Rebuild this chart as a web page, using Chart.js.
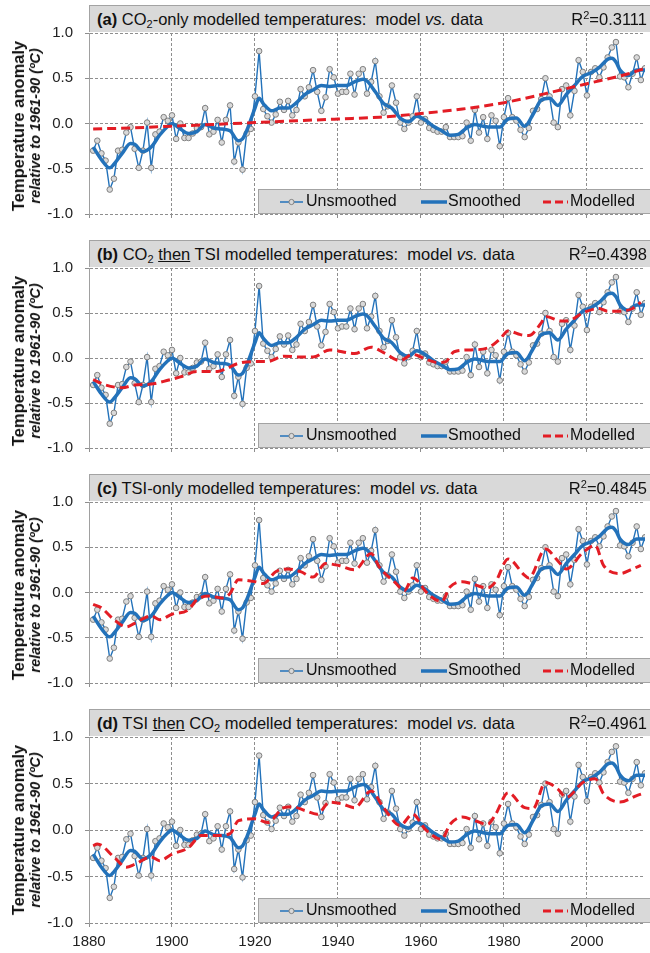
<!DOCTYPE html>
<html>
<head>
<meta charset="utf-8">
<script src="https://cdn.jsdelivr.net/npm/chart.js@4.4.1/dist/chart.umd.min.js"></script>
<style>
body{margin:0;background:#fff;font-family:"Liberation Sans",Arial,sans-serif;}
#wrap{position:relative;width:650px;height:953px;overflow:hidden;background:#fff;}
canvas{position:absolute;left:0;}
.tbox{position:absolute;left:89px;width:570px;height:27px;background:#d9d9d9;border:1px solid #a3a3a3;border-bottom:none;
  box-sizing:border-box;font-size:16.5px;line-height:27px;color:#111;padding-left:7px;white-space:nowrap;}
.tbox b{font-weight:bold;}
.tbox sub{font-size:11px;vertical-align:-3px;line-height:0;}
.tbox sup{font-size:11px;vertical-align:6px;line-height:0;}
.tbox .r2{position:absolute;right:11px;top:0;}
.ytitle{position:absolute;left:27px;transform:translate(-50%,-50%) rotate(-90deg);text-align:center;white-space:nowrap;color:#111;}
.ytitle .l1{font-weight:bold;font-size:16.5px;line-height:17px;}
.ytitle .l2{font-weight:bold;font-style:italic;font-size:14.5px;line-height:17px;}
</style>
</head>
<body>
<div id="wrap"></div>
<script>
// annual unsmoothed anomalies, 1881-2014
const years = [
  1881,1882,1883,1884,1885,1886,1887,1888,1889,1890,
  1891,1892,1893,1894,1895,1896,1897,1898,1899,1900,
  1901,1902,1903,1904,1905,1906,1907,1908,1909,1910,
  1911,1912,1913,1914,1915,1916,1917,1918,1919,1920,
  1921,1922,1923,1924,1925,1926,1927,1928,1929,1930,
  1931,1932,1933,1934,1935,1936,1937,1938,1939,1940,
  1941,1942,1943,1944,1945,1946,1947,1948,1949,1950,
  1951,1952,1953,1954,1955,1956,1957,1958,1959,1960,
  1961,1962,1963,1964,1965,1966,1967,1968,1969,1970,
  1971,1972,1973,1974,1975,1976,1977,1978,1979,1980,
  1981,1982,1983,1984,1985,1986,1987,1988,1989,1990,
  1991,1992,1993,1994,1995,1996,1997,1998,1999,2000,
  2001,2002,2003,2004,2005,2006,2007,2008,2009,2010,
  2011,2012,2013,2014
];
const unsmoothed = [
  -0.30,-0.19,-0.33,-0.41,-0.73,-0.61,-0.30,-0.29,-0.10,-0.04,
  -0.28,-0.49,-0.30, 0.01,-0.49,-0.12,-0.09, 0.07, 0.03, 0.09,
  -0.17, 0.00,-0.16,-0.16,-0.11,-0.05,-0.04, 0.17,-0.12,-0.09,
   0.04,-0.21, 0.04, 0.20,-0.42,-0.21,-0.51,-0.11,-0.06, 0.30,
   0.80, 0.16, 0.08, 0.01, 0.10, 0.24, 0.15, 0.25, 0.09, 0.15,
   0.38, 0.30, 0.40, 0.59, 0.35, 0.14, 0.29, 0.60, 0.51, 0.33,
   0.35, 0.35, 0.55, 0.32, 0.55, 0.60, 0.33, 0.46, 0.69, 0.30,
   0.12, 0.19, 0.42, 0.23, 0.01,-0.06, 0.01, 0.08, 0.30, 0.01,
   0.05,-0.05,-0.07,-0.09,-0.09,-0.04,-0.15,-0.15,-0.15,-0.14,
   0.01,-0.19, 0.15,-0.10, 0.07,-0.17, 0.09, 0.03,-0.25, 0.07,
   0.28, 0.07, 0.03,-0.07,-0.15,-0.05, 0.14, 0.16, 0.27, 0.50,
   0.30, 0.01,-0.04, 0.38, 0.42, 0.09, 0.36, 0.70, 0.57, 0.31,
   0.57, 0.61, 0.51, 0.62, 0.73, 0.84, 0.90, 0.52, 0.51, 0.40,
   0.55, 0.73, 0.48, 0.61
];

// smoothed curve, read at irregular years
const smoothYears = [1881,1883,1885,1886,1888,1890,1891,1893,1895,1897,1899,1900,1902,1904,1906,1908,1910,1912,1914,1916,1917,1918,1920,1921,1922,1924,1926,1928,1930,1932,1934,1936,1938,1940,1942,1944,1946,1947,1949,1951,1953,1955,1957,1959,1961,1963,1965,1967,1969,1971,1973,1975,1977,1979,1981,1983,1985,1987,1989,1991,1993,1995,1997,1999,2001,2003,2005,2006,2007,2008,2010,2012,2014];
const smoothed = [-0.26,-0.40,-0.49,-0.45,-0.33,-0.22,-0.23,-0.31,-0.26,-0.13,-0.03,0.00,-0.06,-0.11,-0.09,-0.01,-0.05,-0.06,-0.08,-0.19,-0.17,-0.08,0.17,0.28,0.22,0.14,0.17,0.17,0.23,0.32,0.37,0.42,0.41,0.42,0.42,0.46,0.49,0.47,0.35,0.22,0.17,0.06,0.02,0.08,0.04,-0.03,-0.08,-0.13,-0.12,-0.05,-0.01,-0.03,-0.04,-0.04,0.05,0.06,-0.03,0.10,0.26,0.28,0.20,0.32,0.42,0.52,0.56,0.62,0.71,0.72,0.68,0.59,0.53,0.59,0.59];

// (a) CO2-only model
const modelAYears = [1881,1890,1900,1910,1920,1930,1940,1950,1960,1970,1980,1990,2000,2010,2014];
const modelA = [-0.06,-0.05,-0.03,-0.01,0.01,0.03,0.05,0.07,0.11,0.16,0.23,0.33,0.44,0.55,0.61];

// (b) CO2 then TSI model
const modelBYears = [1881,1884,1888,1891,1895,1898,1902,1906,1911,1913,1916,1920,1923,1927,1931,1934,1938,1944,1948,1951,1955,1958,1961,1964,1966,1968,1972,1976,1979,1981,1984,1986,1989,1990,1994,1996,1999,2003,2005,2008,2011,2013];
const modelB = [-0.24,-0.30,-0.33,-0.30,-0.29,-0.26,-0.21,-0.15,-0.15,-0.12,-0.06,-0.04,-0.04,0.02,0.01,0.01,0.09,0.05,0.12,0.06,-0.03,0.04,-0.01,-0.05,-0.04,0.07,0.09,0.11,0.21,0.30,0.26,0.25,0.39,0.46,0.41,0.42,0.50,0.55,0.52,0.52,0.55,0.62];

// (c) TSI-only model
const modelCYears = [1881,1883,1886,1889,1891,1895,1897,1900,1904,1906,1909,1912,1914,1916,1920,1922,1925,1928,1931,1934,1937,1940,1944,1948,1950,1954,1956,1958,1962,1965,1967,1970,1972,1976,1978,1981,1985,1986,1990,1993,1995,1999,2002,2004,2008,2011,2013];
const modelC = [-0.13,-0.17,-0.30,-0.38,-0.34,-0.26,-0.30,-0.24,-0.19,-0.08,-0.04,-0.06,-0.01,0.14,0.12,0.10,0.23,0.26,0.23,0.17,0.32,0.30,0.25,0.43,0.28,0.10,0.02,0.16,-0.03,-0.10,0.06,0.12,0.10,0.05,0.12,0.37,0.19,0.16,0.48,0.35,0.26,0.44,0.52,0.30,0.21,0.26,0.30];

// (d) TSI then CO2 model
const modelDYears = [1881,1882,1886,1889,1891,1895,1897,1900,1904,1907,1911,1914,1916,1920,1923,1927,1929,1932,1935,1938,1941,1944,1948,1951,1955,1958,1961,1965,1967,1970,1973,1976,1978,1981,1985,1987,1990,1993,1995,1999,2002,2004,2008,2012,2014];
const modelD = [-0.17,-0.15,-0.29,-0.40,-0.37,-0.29,-0.33,-0.26,-0.19,-0.06,-0.06,-0.04,0.10,0.12,0.08,0.24,0.25,0.21,0.17,0.30,0.28,0.24,0.42,0.24,0.05,0.17,0.01,-0.10,0.06,0.14,0.10,0.06,0.17,0.40,0.24,0.23,0.51,0.44,0.35,0.51,0.55,0.39,0.30,0.37,0.40];

const r2Values = ['0.3111','0.4398','0.4845','0.4961'];
const titles = [
  '<b>(a)</b> CO<sub>2</sub>-only modelled temperatures: &nbsp;model <i>vs.</i> data',
  '<b>(b)</b> CO<sub>2</sub> <u>then</u> TSI modelled temperatures: &nbsp;model <i>vs.</i> data',
  '<b>(c)</b> TSI-only modelled temperatures: &nbsp;model <i>vs.</i> data',
  '<b>(d)</b> TSI <u>then</u> CO<sub>2</sub> modelled temperatures: &nbsp;model <i>vs.</i> data'
];
const models = [[modelAYears, modelA],[modelBYears, modelB],[modelCYears, modelC],[modelDYears, modelD]];

const BLUE = '#2372ba';
const RED = '#e31d25';
const GRID = '#8e8e8e';
const FONT = '"Liberation Sans", Arial, sans-serif';

const panelTops = [0, 235, 469, 704];
const canvasH = [235, 234, 235, 249];

function pts(xs, ys){ return xs.map((x,i)=>({x:x, y:ys[i]})) }

// legend box sitting on the bottom of the plot
const legendBox = {
  id:'legendBox',
  afterDatasetsDraw(chart){
    const ctx = chart.ctx, area = chart.chartArea
    const ds = chart.data.datasets
    const top = area.bottom - 25, left = 258
    ctx.save()
    ctx.fillStyle = '#d9d9d9'
    ctx.fillRect(left, top, chart.width - left + 2, 25)
    ctx.strokeStyle = '#a3a3a3'
    ctx.lineWidth = 1
    ctx.strokeRect(left + 0.5, top + 0.5, chart.width - left + 2, 24)
    const cy = top + 13
    ctx.font = '16px ' + FONT
    ctx.fillStyle = '#111'
    ctx.textBaseline = 'middle'
    // unsmoothed
    ctx.strokeStyle = BLUE; ctx.lineWidth = 1.5
    ctx.beginPath(); ctx.moveTo(280, cy); ctx.lineTo(303, cy); ctx.stroke()
    ctx.beginPath(); ctx.arc(291.5, cy, 2.6, 0, Math.PI*2)
    ctx.fillStyle = '#d9d9d9'; ctx.fill(); ctx.strokeStyle = '#808080'; ctx.lineWidth = 1; ctx.stroke()
    ctx.fillStyle = '#111'
    ctx.fillText(ds[0].label, 306, cy)
    // smoothed
    ctx.strokeStyle = BLUE; ctx.lineWidth = 3.5
    ctx.beginPath(); ctx.moveTo(421, cy); ctx.lineTo(447, cy); ctx.stroke()
    ctx.fillText(ds[1].label, 448, cy)
    // modelled
    ctx.strokeStyle = RED; ctx.lineWidth = 3; ctx.setLineDash([8,4])
    ctx.beginPath(); ctx.moveTo(543, cy); ctx.lineTo(568, cy); ctx.stroke()
    ctx.setLineDash([])
    ctx.fillText(ds[2].label, 570, cy)
    ctx.restore()
  }
}

function makePanel(i){
  const wrap = document.getElementById('wrap')
  const cv = document.createElement('canvas')
  cv.width = 650; cv.height = canvasH[i]
  cv.style.top = panelTops[i] + 'px'
  wrap.appendChild(cv)

  const last = i === 3
  const xH = canvasH[i] - 219
  new Chart(cv.getContext('2d'), {
    type:'line',
    data:{
      datasets:[
        {label:'Unsmoothed', data:pts(years, unsmoothed), borderColor:BLUE, borderWidth:1.4,
         pointRadius:2.8, pointBackgroundColor:'#d9d9d9', pointBorderColor:'#7f7f7f', pointBorderWidth:1,
         tension:0, order:3},
        {label:'Smoothed', data:pts(smoothYears, smoothed), borderColor:BLUE, borderWidth:3.5,
         pointRadius:0, cubicInterpolationMode:'monotone', order:2},
        {label:'Modelled', data:pts(models[i][0], models[i][1]), borderColor:RED, borderWidth:3,
         borderDash:[9,5], pointRadius:0, cubicInterpolationMode:'monotone', order:1}
      ]
    },
    options:{
      responsive:false,
      animation:false,
      layout:{padding:{top:33, left:0, right:0, bottom:0}},
      plugins:{legend:{display:false}, tooltip:{enabled:false}},
      scales:{
        x:{
          type:'linear', min:1880, max:2014,
          ticks:{stepSize:20, display:last, padding:6, color:'#222', font:{family:FONT, size:15}, maxRotation:0,
                 callback:v=>String(v)},
          grid:{color:GRID, tickLength:4, tickColor:GRID},
          border:{display:false, dash:[3,2]},
          afterBuildTicks:s=>{ s.ticks = s.ticks.filter(t=>t.value % 20 === 0) },
          afterFit:s=>{ s.height = xH }
        },
        y:{
          min:-1, max:1,
          ticks:{stepSize:0.5, padding:12, color:'#222', font:{family:FONT, size:15}, callback:v=>v.toFixed(1)},
          grid:{color:GRID, tickLength:4, tickColor:GRID},
          border:{display:true, color:'#a0a0a0', dash:[3,2]},
          afterFit:s=>{ s.width = 89 }
        }
      }
    },
    plugins:[legendBox]
  })

  const tb = document.createElement('div')
  tb.className = 'tbox'
  tb.style.top = (panelTops[i] + 5) + 'px'
  tb.innerHTML = titles[i] + '<span class="r2">R<sup>2</sup>=' + r2Values[i] + '</span>'
  wrap.appendChild(tb)

  const yt = document.createElement('div')
  yt.className = 'ytitle'
  yt.style.top = (panelTops[i] + 126) + 'px'
  yt.innerHTML = '<div class="l1">Temperature anomaly</div><div class="l2">relative to 1961-90 (ºC)</div>'
  wrap.appendChild(yt)
}

window.onload = ()=>{
  for (let i = 0; i < 4; i++) makePanel(i)
}
</script>
</body>
</html>
